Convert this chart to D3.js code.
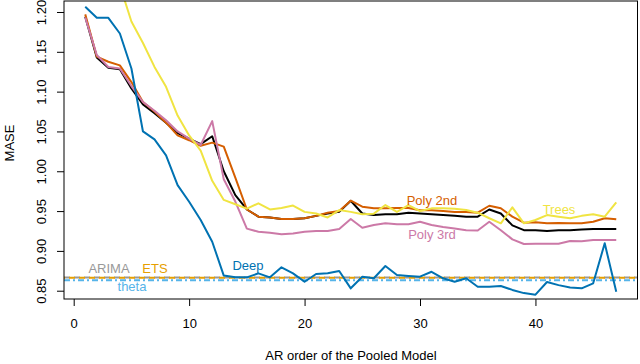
<!DOCTYPE html>
<html>
<head>
<meta charset="utf-8">
<script src="https://cdn.jsdelivr.net/npm/d3@7"></script>
<style>
  body { margin: 0; background: #fff; }
  svg text { font-family: "Liberation Sans", Arial, Helvetica, sans-serif; }
</style>
</head>
<body>
<svg id="chart" width="640" height="364"></svg>
<script>
// AR order 1..47
const orders = d3.range(1, 48);

// MASE per model
const poly1st = [1.194, 1.143, 1.130, 1.128, 1.104, 1.084, 1.073, 1.061, 1.048, 1.041,
  1.034, 1.044, 1.000, 0.970, 0.952, 0.943, 0.942, 0.940, 0.940, 0.941,
  0.944, 0.947, 0.949, 0.963, 0.947, 0.945, 0.946, 0.946, 0.948, 0.947,
  0.946, 0.945, 0.944, 0.943, 0.943, 0.952, 0.947, 0.932, 0.926, 0.926,
  0.925, 0.926, 0.926, 0.927, 0.9275, 0.9275, 0.9275];
const poly2nd = [1.197, 1.144, 1.1375, 1.133, 1.112, 1.087, 1.075, 1.061, 1.045, 1.039,
  1.032, 1.036, 1.031, 0.992, 0.952, 0.943, 0.942, 0.940, 0.940, 0.941,
  0.944, 0.948, 0.950, 0.963, 0.9555, 0.9535, 0.9535, 0.954, 0.954, 0.951,
  0.951, 0.950, 0.949, 0.949, 0.948, 0.9567, 0.9535, 0.943, 0.9354, 0.936,
  0.9346, 0.935, 0.9346, 0.9346, 0.9366, 0.941, 0.9396];
const poly3rd = [1.193, 1.146, 1.131, 1.129, 1.107, 1.087, 1.076, 1.064, 1.050, 1.041,
  1.033, 1.063, 0.990, 0.962, 0.928, 0.924, 0.9228, 0.921, 0.9218, 0.924,
  0.925, 0.925, 0.9275, 0.940, 0.929, 0.9325, 0.9346, 0.9334, 0.9334, 0.9366,
  0.9325, 0.930, 0.928, 0.926, 0.9256, 0.9366, 0.926, 0.9145, 0.9086, 0.909,
  0.909, 0.909, 0.9124, 0.912, 0.9136, 0.9136, 0.9136];
const trees = [1.40, 1.33, 1.28, 1.2335, 1.188, 1.161, 1.131, 1.106, 1.070, 1.045,
  1.026, 0.988, 0.964, 0.9586, 0.953, 0.9597, 0.952, 0.954, 0.957, 0.949,
  0.947, 0.942, 0.9513, 0.949, 0.946, 0.9468, 0.9576, 0.949, 0.9576, 0.950,
  0.9534, 0.9534, 0.953, 0.9513, 0.948, 0.941, 0.9346, 0.9547, 0.9346, 0.9388,
  0.945, 0.943, 0.941, 0.944, 0.946, 0.943, 0.961];
const deep = [1.2066, 1.1927, 1.1927, 1.173, 1.129, 1.050, 1.040, 1.020, 0.9826, 0.9617,
  0.9388, 0.9115, 0.869, 0.8668, 0.8668, 0.8718, 0.8668, 0.8794, 0.8718, 0.8613,
  0.871, 0.872, 0.8747, 0.853, 0.8676, 0.8656, 0.881, 0.8697, 0.8685, 0.8676,
  0.8738, 0.8656, 0.8613, 0.8656, 0.855, 0.855, 0.856, 0.851, 0.847, 0.845,
  0.861, 0.857, 0.854, 0.853, 0.8593, 0.9095, 0.8487];

// benchmark models (horizontal lines)
const arima = 0.8666;
const ets = 0.8663;
const theta = 0.8631;

const xTicks = [0, 10, 20, 30, 40];
const yTicks = [0.85, 0.90, 0.95, 1.00, 1.05, 1.10, 1.15, 1.20];

const svg = d3.select('#chart');

const x = d3.scaleLinear().domain([-0.84, 48.84]).range([64, 637.5]);
const y = d3.scaleLinear().domain([0.8396, 1.2138]).range([299, 1]);

svg.append('clipPath').attr('id', 'plot-clip')
  .append('rect')
  .attr('x', x.range()[0]).attr('y', y.range()[1])
  .attr('width', x.range()[1] - x.range()[0])
  .attr('height', y.range()[0] - y.range()[1]);

const plot = svg.append('g').attr('clip-path', 'url(#plot-clip)');

// benchmark lines
const refs = [
  { v: arima, color: '#999999', dash: '6,4' },
  { v: ets, color: '#E69F00', dash: '6,4', offset: 5 },
  { v: theta, color: '#56B4E9', dash: '6,3,2,3' }
];
for (const r of refs) {
  plot.append('line')
    .attr('x1', x.range()[0]).attr('x2', x.range()[1])
    .attr('y1', y(r.v)).attr('y2', y(r.v))
    .attr('stroke', r.color)
    .attr('stroke-width', 2)
    .attr('stroke-dasharray', r.dash)
    .attr('stroke-dashoffset', r.offset || 0);
}

const line = d3.line()
  .x((d, i) => x(orders[i]))
  .y(d => y(d));

const series = [
  { values: poly1st, color: '#000000' },
  { values: poly2nd, color: '#D55E00' },
  { values: poly3rd, color: '#CC79A7' },
  { values: trees, color: '#F0E442' },
  { values: deep, color: '#0072B2' }
];
for (const s of series) {
  plot.append('path')
    .datum(s.values)
    .attr('d', line)
    .attr('fill', 'none')
    .attr('stroke', s.color)
    .attr('stroke-width', 2)
    .attr('stroke-linejoin', 'round');
}

// labels
const labels = [
  { text: 'ARIMA', x: 109, y: 268, color: '#999999' },
  { text: 'ETS', x: 155, y: 268, color: '#E69F00' },
  { text: 'theta', x: 132, y: 286, color: '#56B4E9' },
  { text: 'Deep', x: 248, y: 265, color: '#0072B2' },
  { text: 'Poly 2nd', x: 432, y: 200.5, color: '#D55E00' },
  { text: 'Poly 3rd', x: 432, y: 234, color: '#CC79A7' },
  { text: 'Trees', x: 559, y: 209, color: '#F0E442' }
];
svg.append('g').selectAll('text')
  .data(labels)
  .join('text')
  .attr('x', d => d.x)
  .attr('y', d => d.y)
  .attr('text-anchor', 'middle')
  .attr('dominant-baseline', 'central')
  .attr('font-size', 13)
  .attr('fill', d => d.color)
  .text(d => d.text);

// axes
const xAxis = svg.append('g')
  .attr('transform', `translate(0,${y.range()[0]})`)
  .call(d3.axisBottom(x).tickValues(xTicks).tickSize(7).tickPadding(13));
xAxis.select('.domain').remove();
xAxis.selectAll('text').attr('font-size', 13).attr('fill', '#000')
  .style('font-family', '"Liberation Sans", Arial, sans-serif');

const yAxis = svg.append('g')
  .attr('transform', `translate(${x.range()[0]},0)`)
  .call(d3.axisLeft(y).tickValues(yTicks).tickFormat(d3.format('.2f')).tickSize(7));
yAxis.select('.domain').remove();
yAxis.selectAll('text')
  .attr('font-size', 13).attr('fill', '#000')
  .style('font-family', '"Liberation Sans", Arial, sans-serif')
  .attr('x', null).attr('dy', null)
  .attr('text-anchor', 'middle')
  .attr('dominant-baseline', 'central')
  .attr('transform', 'translate(-23,0) rotate(-90)');

// box
svg.append('rect')
  .attr('x', x.range()[0]).attr('y', y.range()[1])
  .attr('width', x.range()[1] - x.range()[0])
  .attr('height', y.range()[0] - y.range()[1])
  .attr('fill', 'none')
  .attr('stroke', '#000')
  .attr('stroke-width', 1);

// axis titles
svg.append('text')
  .attr('x', 351).attr('y', 355)
  .attr('text-anchor', 'middle')
  .attr('dominant-baseline', 'central')
  .attr('font-size', 13)
  .text('AR order of the Pooled Model');

svg.append('text')
  .attr('transform', 'translate(9,143) rotate(-90)')
  .attr('text-anchor', 'middle')
  .attr('dominant-baseline', 'central')
  .attr('font-size', 13)
  .text('MASE');
</script>
</body>
</html>
